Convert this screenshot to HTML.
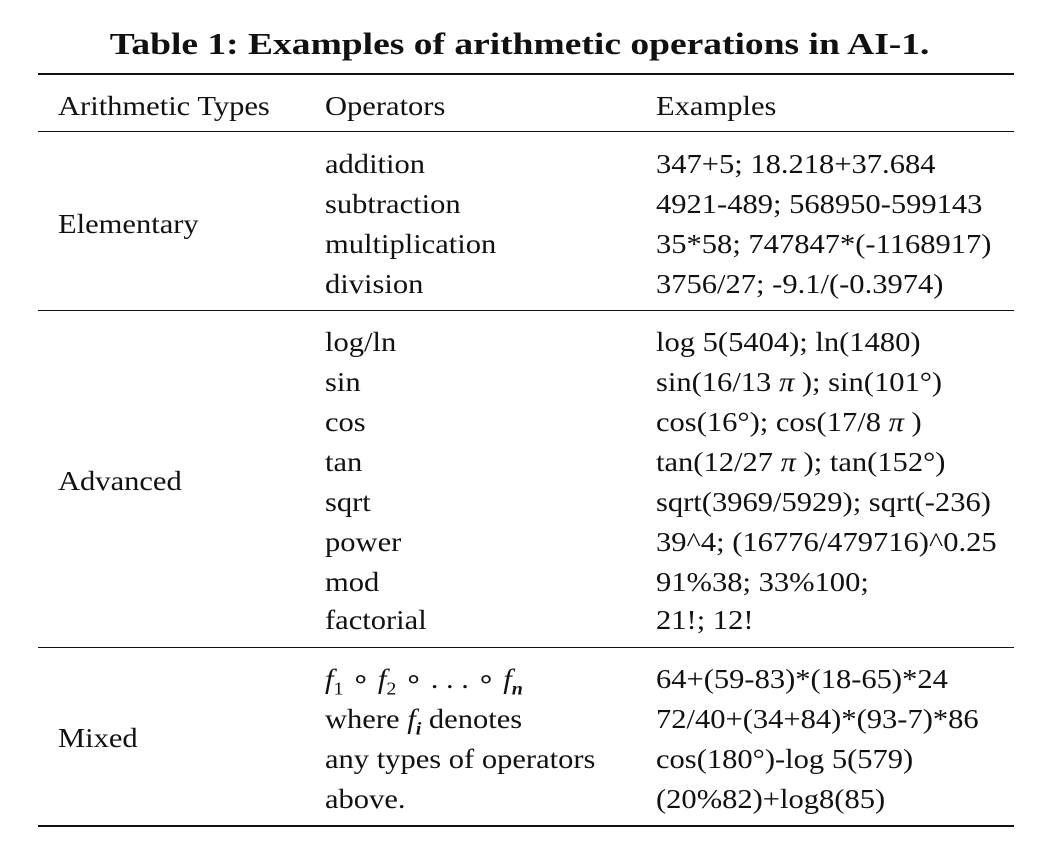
<!DOCTYPE html>
<html><head><meta charset="utf-8">
<style>
body{margin:0;background:#fff;width:1039px;height:855px;position:relative;overflow:hidden;font-family:"Liberation Serif",serif;color:#111}
.t{position:absolute;font-size:27.5px;line-height:40px;height:40px;white-space:nowrap;transform:scaleX(1.11);transform-origin:left center;margin-top:2px}
.r{position:absolute;left:38px;width:976px;background:#111}
h1{position:absolute;top:22px;left:0;width:1039px;text-align:center;margin:0;font-size:31px;font-weight:bold;line-height:44px;transform:scaleX(1.21);transform-origin:519px center}
i{font-style:italic}
sub{font-size:18px}
</style></head><body>
<h1>Table 1: Examples of arithmetic operations in AI-1.</h1>
<div class="r" style="top:73px;height:2px"></div>
<div class="r" style="top:131px;height:1px"></div>
<div class="r" style="top:310px;height:1px"></div>
<div class="r" style="top:647px;height:1px"></div>
<div class="r" style="top:825px;height:2px"></div>

<div class="t" style="left:58px;top:84px">Arithmetic Types</div>
<div class="t" style="left:325px;top:84px">Operators</div>
<div class="t" style="left:656px;top:84px">Examples</div>

<div class="t" style="left:58px;top:202px">Elementary</div>
<div class="t" style="left:58px;top:459px">Advanced</div>
<div class="t" style="left:58px;top:716px">Mixed</div>

<div class="t" style="left:325px;top:142px">addition</div>
<div class="t" style="left:656px;top:142px">347+5; 18.218+37.684</div>
<div class="t" style="left:325px;top:182px">subtraction</div>
<div class="t" style="left:656px;top:182px">4921-489; 568950-599143</div>
<div class="t" style="left:325px;top:222px">multiplication</div>
<div class="t" style="left:656px;top:222px">35*58; 747847*(-1168917)</div>
<div class="t" style="left:325px;top:262px">division</div>
<div class="t" style="left:656px;top:262px">3756/27; -9.1/(-0.3974)</div>

<div class="t" style="left:325px;top:320px">log/ln</div>
<div class="t" style="left:656px;top:320px">log 5(5404); ln(1480)</div>
<div class="t" style="left:325px;top:360px">sin</div>
<div class="t" style="left:656px;top:360px">sin(16/13 <i>π</i> ); sin(101°)</div>
<div class="t" style="left:325px;top:400px">cos</div>
<div class="t" style="left:656px;top:400px">cos(16°); cos(17/8 <i>π</i> )</div>
<div class="t" style="left:325px;top:440px">tan</div>
<div class="t" style="left:656px;top:440px">tan(12/27 <i>π</i> ); tan(152°)</div>
<div class="t" style="left:325px;top:480px">sqrt</div>
<div class="t" style="left:656px;top:480px">sqrt(3969/5929); sqrt(-236)</div>
<div class="t" style="left:325px;top:520px">power</div>
<div class="t" style="left:656px;top:520px">39^4; (16776/479716)^0.25</div>
<div class="t" style="left:325px;top:560px">mod</div>
<div class="t" style="left:656px;top:560px">91%38; 33%100;</div>
<div class="t" style="left:325px;top:598px">factorial</div>
<div class="t" style="left:656px;top:598px">21!; 12!</div>

<div class="t" style="left:325px;top:657px"><i>f</i><sub>1</sub> ∘ <i>f</i><sub>2</sub> ∘ . . . ∘ <i>f<sub><b>n</b></sub></i></div>
<div class="t" style="left:656px;top:657px">64+(59-83)*(18-65)*24</div>
<div class="t" style="left:325px;top:697px">where <i>f<sub><b>i</b></sub></i> denotes</div>
<div class="t" style="left:656px;top:697px">72/40+(34+84)*(93-7)*86</div>
<div class="t" style="left:325px;top:737px">any types of operators</div>
<div class="t" style="left:656px;top:737px">cos(180°)-log 5(579)</div>
<div class="t" style="left:325px;top:777px">above.</div>
<div class="t" style="left:656px;top:777px">(20%82)+log8(85)</div>
</body></html>
